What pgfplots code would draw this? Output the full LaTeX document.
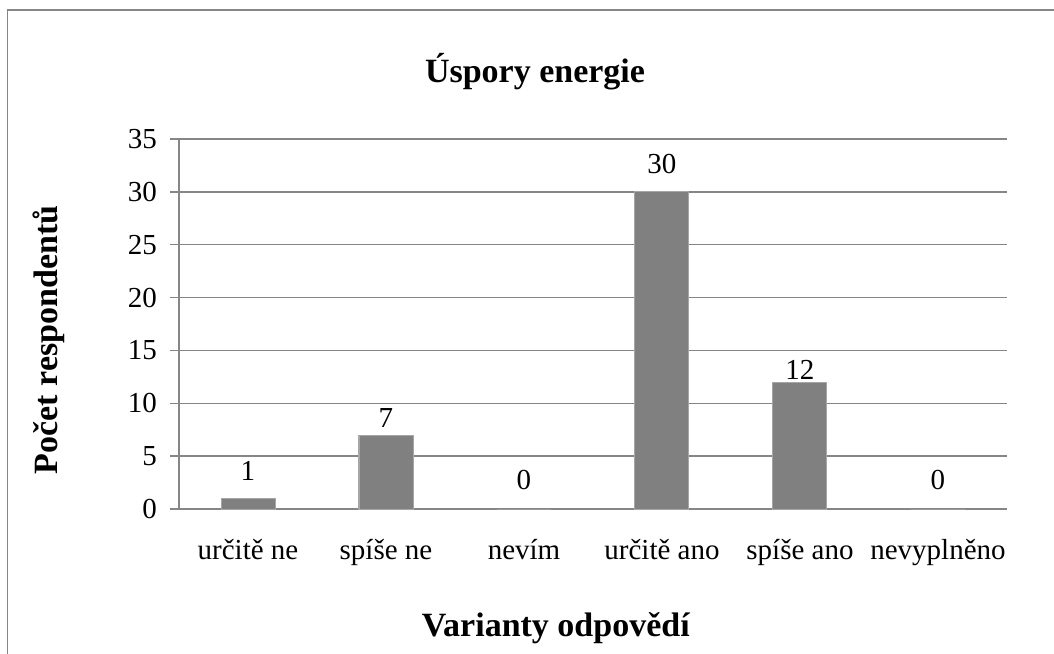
\documentclass[border=0pt]{standalone}
\usepackage{fontspec}
\setmainfont{Liberation Serif}
\usepackage{pgfplots}
\usepackage{pgfplotstable}
\pgfplotsset{compat=1.18}
\definecolor{axgray}{HTML}{868686}
\definecolor{barfill}{HTML}{808080}
\definecolor{baredge}{HTML}{A6A6A6}
\pgfplotstableread{
x y s
0 1 8.5
1 7 3.5
2 0 9.5
3 30 9
4 12 1
5 0 9.5
}\datatable
\begin{document}
\begin{tikzpicture}
\useasboundingbox (0pt,0pt) rectangle (527pt,326.5pt);
\draw[axgray, line width=0.7pt] (3.7pt,-2pt) -- (3.7pt,321.4pt) -- (530pt,321.4pt);
\begin{axis}[
  at={(89.5pt,72pt)}, anchor=south west,
  scale only axis, width=414pt, height=185pt,
  xmin=-0.5, xmax=5.5, ymin=0, ymax=35,
  ytick={0,5,...,35},
  xtick={0,...,5},
  xticklabels={určitě ne, spíše ne, nevím, určitě ano, spíše ano, nevyplněno},
  minor xtick={-0.5,0.5,1.5,2.5,3.5,4.5,5.5},
  xtick style={draw=none},
  minor tick length=4.5pt,
  major tick length=4.5pt,
  tick align=outside,
  axis x line*=bottom, axis y line*=left,
  axis line style={axgray, line width=0.7pt},
  every tick/.style={axgray, line width=0.7pt},
  ymajorgrids, grid style={axgray, line width=0.7pt},
  /pgf/number format/assume math mode=true,
  ticklabel style={font=\fontsize{14.5}{16}\selectfont},
  xticklabel style={yshift=-7pt},
  yticklabel style={xshift=-3pt},
  title={Úspory energie},
  title style={at={(axis description cs:0.43,1.1216)}, anchor=base, font=\bfseries\fontsize{17}{20}\selectfont},
  xlabel={Varianty odpovědí},
  xlabel style={at={(axis description cs:0.455,-0.3459)}, anchor=base, font=\bfseries\fontsize{17}{20}\selectfont},
  ylabel={Počet respondentů},
  ylabel style={at={(axis description cs:-0.1473,0.4568)}, anchor=base, font=\bfseries\fontsize{17}{20}\selectfont},
  ybar, bar width=27pt,
  point meta=y,
  visualization depends on={\thisrow{s}\as\myshift},
  nodes near coords,
  nodes near coords style={anchor=south, inner sep=0pt, yshift=\myshift pt, font=\fontsize{14.5}{16}\selectfont, text=black},
]
\addplot[fill=barfill, draw=baredge, line width=0.5pt] table[x=x, y=y] {\datatable};
\end{axis}
\end{tikzpicture}
\end{document}
